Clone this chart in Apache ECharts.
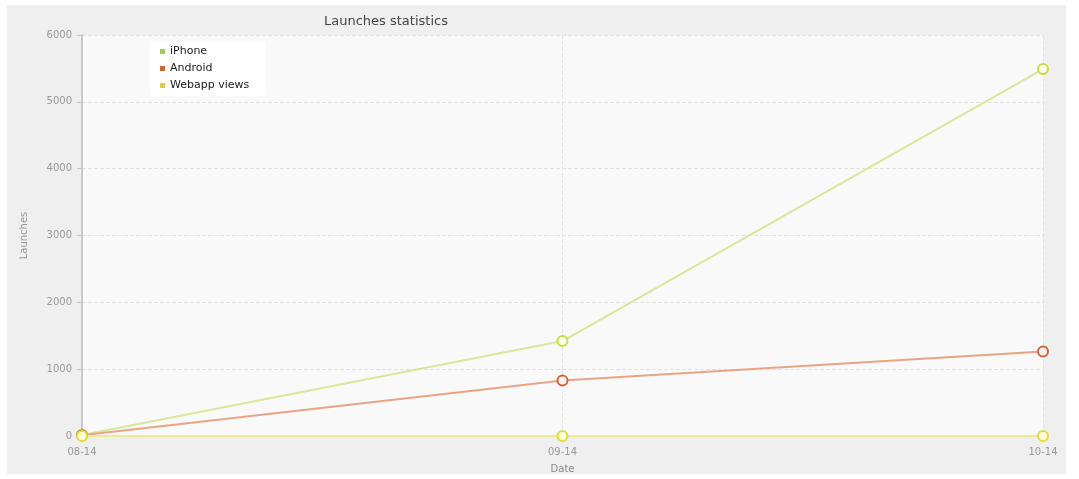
<!DOCTYPE html>
<html>
<head>
<meta charset="utf-8">
<title>Launches statistics</title>
<script src="https://cdn.jsdelivr.net/npm/echarts@6/dist/echarts.min.js"></script>
<style>
  html, body { margin: 0; padding: 0; background: #ffffff; }
  #chart { width: 1079px; height: 479px; }
</style>
</head>
<body>
<div id="chart"></div>
<script>
// Monthly launch counts per platform
const dates = ['08-14', '09-14', '10-14'];
const iphone = [15, 1420, 5490];
const android = [10, 830, 1265];
const webappViews = [0, 0, 0];
const yTicks = [0, 1000, 2000, 3000, 4000, 5000, 6000];

const FONT = 'DejaVu Sans';

function lineSeries(name, data, lineColor, markerColor, fill) {
  return {
    name: name,
    type: 'line',
    data: data,
    symbol: 'circle',
    symbolSize: 10,
    showSymbol: true,
    lineStyle: { color: lineColor, width: 2 },
    itemStyle: { color: fill, borderColor: markerColor, borderWidth: 2 },
    emphasis: { disabled: true }
  };
}

const chart = echarts.init(document.getElementById('chart'), null, { renderer: 'canvas' });

chart.setOption({
  animation: false,
  backgroundColor: '#ffffff',
  graphic: [{
    type: 'rect',
    z: -10,
    shape: { x: 7, y: 5, width: 1059, height: 469 },
    style: { fill: '#efefef' }
  }],
  title: {
    text: 'Launches statistics',
    left: 319,
    top: 10,
    textStyle: { fontFamily: FONT, fontSize: 13, fontWeight: 'normal', color: '#444' }
  },
  legend: {
    left: 150,
    top: 41,
    orient: 'vertical',
    backgroundColor: '#ffffff',
    borderRadius: 4,
    padding: [5, 16, 5, 10],
    itemWidth: 5,
    itemHeight: 5,
    itemGap: 6,
    icon: 'rect',
    textStyle: { fontFamily: FONT, fontSize: 11, color: '#222' },
    data: [
      { name: 'iPhone', itemStyle: { color: '#a9c85a', borderWidth: 0 } },
      { name: 'Android', itemStyle: { color: '#c8692e', borderWidth: 0 } },
      { name: 'Webapp views', itemStyle: { color: '#e3c845', borderWidth: 0 } }
    ]
  },
  grid: {
    left: 82,
    right: 36,
    top: 35,
    bottom: 42,
    show: true,
    backgroundColor: '#f9f9fa',
    borderWidth: 0
  },
  xAxis: {
    type: 'category',
    data: dates,
    boundaryGap: false,
    name: 'Date',
    nameLocation: 'middle',
    nameGap: 28,
    nameTextStyle: { fontFamily: FONT, fontSize: 10, color: '#888' },
    axisLine: { show: false },
    axisTick: { show: false },
    axisLabel: { fontFamily: FONT, fontSize: 10, color: '#999', margin: 11 },
    splitLine: { show: true, lineStyle: { color: '#e4e4e8', type: 'dashed', width: 1 } }
  },
  yAxis: {
    type: 'value',
    min: yTicks[0],
    max: yTicks[yTicks.length - 1],
    interval: yTicks[1] - yTicks[0],
    name: 'Launches',
    nameLocation: 'middle',
    nameGap: 53,
    nameRotate: 90,
    nameTextStyle: { fontFamily: FONT, fontSize: 10, color: '#999' },
    axisLine: { show: true, lineStyle: { color: '#c8c8c8', width: 2 } },
    axisTick: { show: true, length: 5, lineStyle: { color: '#c8c8c8' } },
    axisLabel: { fontFamily: FONT, fontSize: 10, color: '#999', margin: 10, formatter: v => String(v) },
    splitLine: { show: true, lineStyle: { color: '#e2e2e6', type: 'dashed', width: 1 } }
  },
  series: [
    lineSeries('iPhone', iphone, '#d9e79a', '#c8dc45', '#fbfde8'),
    lineSeries('Android', android, '#e9a484', '#d0643c', '#fdf2ee'),
    lineSeries('Webapp views', webappViews, '#eeeb8e', '#e0dc3c', '#fffbd8')
  ]
});
</script>
</body>
</html>
